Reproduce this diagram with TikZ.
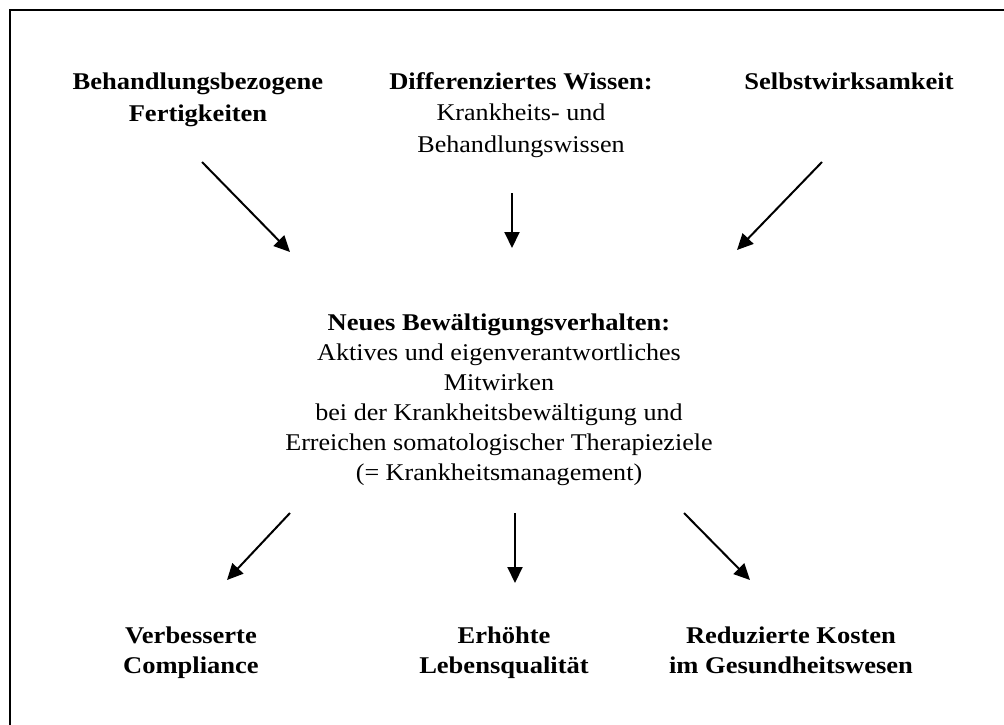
\documentclass[tikz,border=0pt]{standalone}
\usepackage{fontspec}
\setmainfont{Liberation Serif}[FakeStretch=1.087, BoldFeatures={FakeStretch=1.105}]
\usetikzlibrary{arrows.meta}
\begin{document}
\begin{tikzpicture}[x=1pt,y=-1pt,
  lbl/.style={align=center, inner sep=0pt, anchor=base},
  toptext/.style={lbl, font=\fontsize{24}{31.5}\selectfont},
  midtext/.style={lbl, font=\fontsize{24}{30}\selectfont},
  bottext/.style={lbl, font=\fontsize{24}{30}\selectfont\bfseries},
  arr/.style={line width=2pt, -{Triangle[length=16pt,width=15pt]}}]
\useasboundingbox (0,0) rectangle (1004,724);
\clip (0,0) rectangle (1004,724);
% frame (runs past the right and lower edges)
\draw[line width=2.3pt] (9.7,10.3) rectangle (1030,750);

% upper row (anchored at the baseline of the last line)
\node[toptext] (skills) at (198,121) {\textbf{Behandlungsbezogene}\\\textbf{Fertigkeiten}};
\node[toptext] (know) at (521,152) {\textbf{Differenziertes Wissen:}\\Krankheits- und\\Behandlungswissen};
\node[toptext] (self) at (849,89) {\textbf{Selbstwirksamkeit}};

% central block
\node[midtext] (coping) at (499,480) {\textbf{Neues Bewältigungsverhalten:}\\Aktives und eigenverantwortliches\\Mitwirken\\bei der Krankheitsbewältigung und\\Erreichen somatologischer Therapieziele\\(= Krankheitsmanagement)};

% lower row
\node[bottext] (compl) at (191,673) {Verbesserte\\Compliance};
\node[bottext] (qual) at (504,673) {Erhöhte\\Lebensqualität};
\node[bottext] (cost) at (791,673) {Reduzierte Kosten\\im Gesundheitswesen};

% arrow ends
\coordinate (s1) at (202,162); \coordinate (e1) at (290,252);
\coordinate (s2) at (512,193); \coordinate (e2) at (512,248);
\coordinate (s3) at (822,162); \coordinate (e3) at (737,250);
\coordinate (s4) at (290,513); \coordinate (e4) at (227,580);
\coordinate (s5) at (515,513); \coordinate (e5) at (515,583);
\coordinate (s6) at (684,513); \coordinate (e6) at (750,580);

\draw[arr] (s1) -- (e1);
\draw[arr] (s2) -- (e2);
\draw[arr] (s3) -- (e3);
\draw[arr] (s4) -- (e4);
\draw[arr] (s5) -- (e5);
\draw[arr] (s6) -- (e6);
\end{tikzpicture}
\end{document}
